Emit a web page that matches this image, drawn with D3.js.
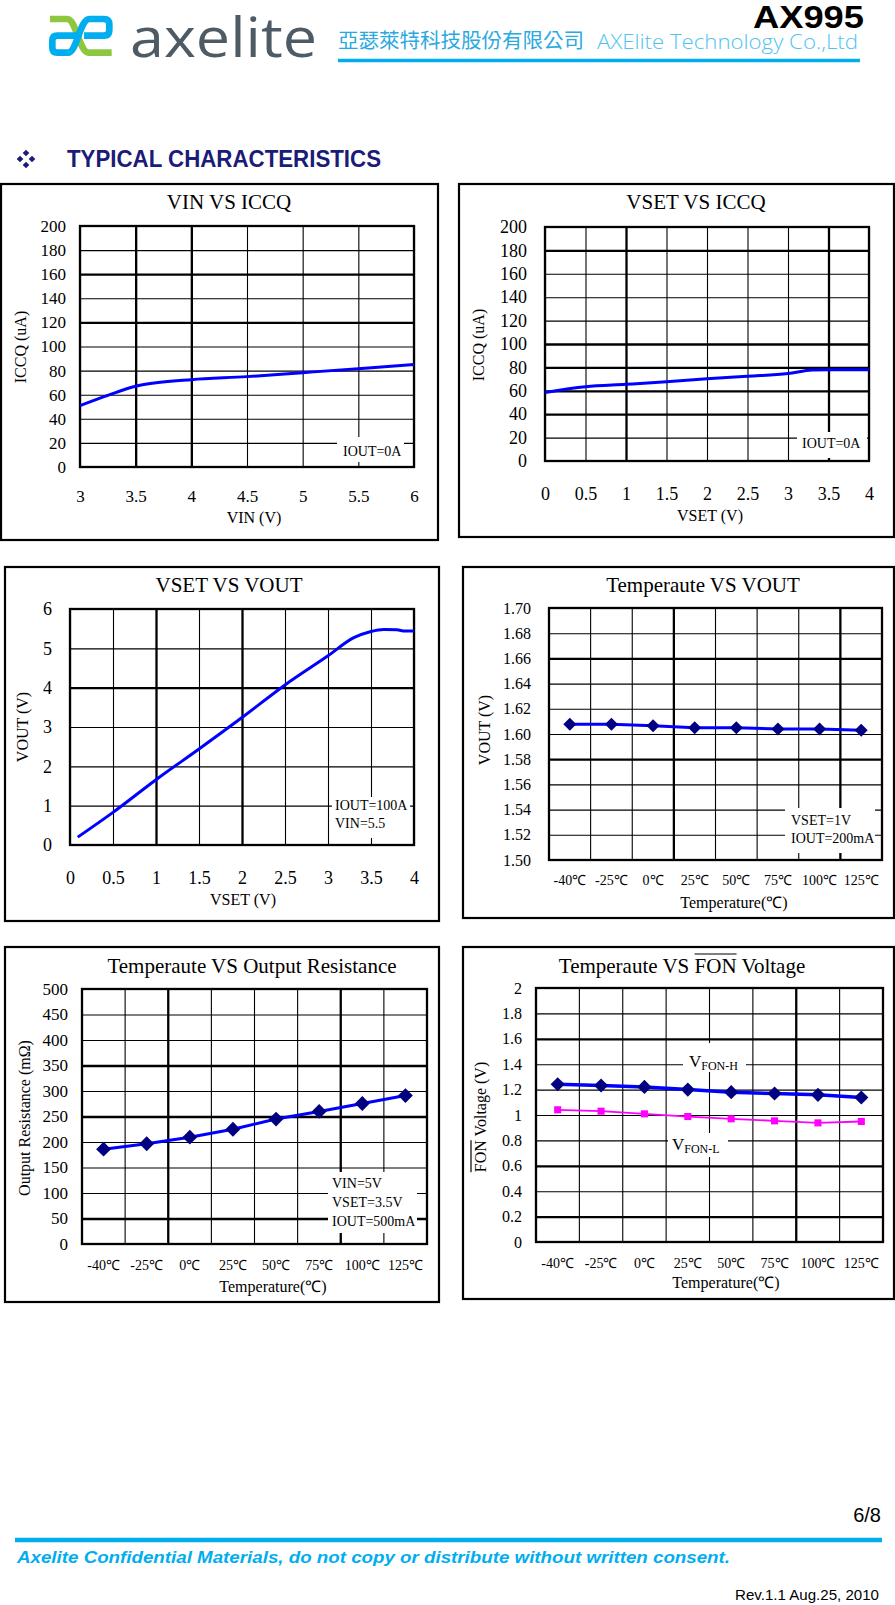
<!DOCTYPE html>
<html>
<head>
<meta charset="utf-8">
<script src="https://cdn.jsdelivr.net/npm/d3@7"></script>
<style>
  html, body { margin: 0; padding: 0; background: #fff; }
  svg { display: block; }
</style>
</head>
<body>
<script>
// ---------------- DATA ----------------
// Chart 1: VIN vs ICCQ
const vinX      = [3, 3.25, 3.5, 3.65, 4, 4.5, 5, 5.5, 6];
const vinIccq   = [51, 59.5, 67, 69.5, 72.5, 75, 78.3, 81.6, 85];
const vinTicks  = [3, 3.5, 4, 4.5, 5, 5.5, 6];
const iccqTicks = [0, 20, 40, 60, 80, 100, 120, 140, 160, 180, 200];

// Chart 2: VSET vs ICCQ
const vsetIccqX = [0, 0.5, 1, 1.5, 2, 2.5, 3, 3.3, 3.5, 4];
const vsetIccq  = [58.5, 63.4, 65.5, 67.7, 70.2, 72.4, 74.7, 77.8, 78, 78];
const vsetTicks = [0, 0.5, 1, 1.5, 2, 2.5, 3, 3.5, 4];

// Chart 3: VSET vs VOUT
const vsetVoutX = [0.09, 0.5, 1, 1.5, 2, 2.5, 3, 3.3, 3.5, 3.65, 3.8, 3.9, 4];
const vsetVout  = [0.2, 0.83, 1.66, 2.44, 3.24, 4.07, 4.81, 5.27, 5.43, 5.48, 5.47, 5.44, 5.44];
const voutTicks = [0, 1, 2, 3, 4, 5, 6];

// Temperature categories
const tempCats = ["-40℃", "-25℃", "0℃", "25℃", "50℃", "75℃", "100℃", "125℃"];

// Chart 4: Temperature vs VOUT
const tempVout      = [1.6077, 1.6077, 1.6066, 1.605, 1.605, 1.604, 1.604, 1.603];
const tempVoutTicks = [1.50, 1.52, 1.54, 1.56, 1.58, 1.60, 1.62, 1.64, 1.66, 1.68, 1.70];

// Chart 5: Temperature vs Output Resistance
const tempRout  = [186, 196.5, 209.5, 225, 245, 260, 275.5, 291];
const routTicks = [0, 50, 100, 150, 200, 250, 300, 350, 400, 450, 500];

// Chart 6: Temperature vs FON voltage
const fonHigh  = [1.242, 1.232, 1.221, 1.200, 1.180, 1.169, 1.159, 1.138];
const fonLow   = [1.041, 1.030, 1.009, 0.988, 0.970, 0.954, 0.938, 0.949];
const fonTicks = [0, 0.2, 0.4, 0.6, 0.8, 1, 1.2, 1.4, 1.6, 1.8, 2];

// ---------------- DRAW ----------------
const SERIF = "'Liberation Serif','Times New Roman',serif";
const SANS = "'Liberation Sans',Arial,sans-serif";
const svg = d3.select("body").append("svg").attr("width", 895).attr("height", 1605);

// Header
const logo = svg.append("g").attr("transform", "translate(40,10) scale(0.3333)")
  .attr("fill", "none").attr("stroke-linecap", "butt").attr("stroke-width", 20);
logo.append("path").attr("stroke", "#8dc63f")
  .attr("d", "M30,27 L82,27 C108,27 118,128 146,128 L215,128");
logo.append("path").attr("stroke", "#00aeef")
  .attr("d", "M112,77 L52,77 Q37,77 37,92 L37,113 Q37,128 52,128 L84,128 C110,128 120,27 148,27 L192,27 Q208,27 208,43 L208,61 Q208,77 192,77 L132,77");
svg.append("text").attr("x", 130).attr("y", 57).attr("font-family", "'Open Sans',sans-serif")
  .attr("font-size", 54).attr("fill", "#4e5a64").attr("textLength", 187).attr("lengthAdjust", "spacingAndGlyphs")
  .text("axelite");
svg.append("text").attr("x", 338).attr("y", 48).attr("font-family", "'Noto Sans CJK TC',sans-serif")
  .attr("font-size", 20).attr("fill", "#2aa9e0").attr("textLength", 246).attr("lengthAdjust", "spacingAndGlyphs")
  .text("亞瑟萊特科技股份有限公司");
svg.append("text").attr("x", 597).attr("y", 49).attr("font-family", "'Open Sans',sans-serif").attr("font-weight", 300)
  .attr("font-size", 20).attr("fill", "#4fc3f0").attr("textLength", 261).attr("lengthAdjust", "spacingAndGlyphs")
  .text("AXElite Technology Co.,Ltd");
svg.append("line").attr("x1", 338).attr("x2", 860).attr("y1", 60.5).attr("y2", 60.5)
  .attr("stroke", "#00aeef").attr("stroke-width", 3.5);
svg.append("text").attr("x", 864).attr("y", 28).attr("text-anchor", "end").attr("font-family", SANS)
  .attr("font-weight", "bold").attr("font-size", 32).attr("textLength", 111).attr("lengthAdjust", "spacingAndGlyphs")
  .text("AX995");

// Section title
const bullet = svg.append("g").attr("fill", "#1b1b78");
[[0, -6], [-6, 0], [6, 0], [0, 6]].forEach(([dx, dy]) => {
  bullet.append("path").attr("d", d3.symbol(d3.symbolSquare, 22)())
    .attr("transform", `translate(${26 + dx},${159 + dy}) rotate(45)`);
});
svg.append("text").attr("x", 67).attr("y", 167).attr("font-family", SANS).attr("font-weight", "bold")
  .attr("font-size", 24).attr("fill", "#1b1b78").attr("textLength", 314).attr("lengthAdjust", "spacingAndGlyphs")
  .text("TYPICAL CHARACTERISTICS");

// Footer
svg.append("text").attr("x", 881).attr("y", 1522).attr("text-anchor", "end").attr("font-family", SANS)
  .attr("font-size", 20).text("6/8");
svg.append("line").attr("x1", 15).attr("x2", 882).attr("y1", 1540).attr("y2", 1540)
  .attr("stroke", "#00aeef").attr("stroke-width", 4.5);
svg.append("text").attr("x", 17).attr("y", 1563).attr("font-family", SANS).attr("font-weight", "bold")
  .attr("font-style", "italic").attr("font-size", 16).attr("fill", "#00aeef")
  .attr("textLength", 713).attr("lengthAdjust", "spacingAndGlyphs")
  .text("Axelite Confidential Materials, do not copy or distribute without written consent.");
svg.append("text").attr("x", 879).attr("y", 1600).attr("text-anchor", "end").attr("font-family", SANS)
  .attr("font-size", 15).attr("textLength", 144).attr("lengthAdjust", "spacingAndGlyphs")
  .text("Rev.1.1 Aug.25, 2010");

const near = (arr, v) => (arr || []).some(a => Math.abs(a - v) < 1e-9);

// rich text with overline support; segments: [{t, over}]
function richText(parent, segs, x, y, fs, anchor, overOffset) {
  const txt = parent.append("text").attr("x", x).attr("y", y).attr("font-family", SERIF)
    .attr("font-size", fs).attr("text-anchor", anchor).attr("fill", "#000");
  segs.forEach(s => txt.append("tspan").text(s.t));
  let idx = 0;
  segs.forEach(s => {
    if (s.over) {
      const n = txt.node();
      const p0 = n.getStartPositionOfChar(idx);
      const p1 = n.getEndPositionOfChar(idx + s.t.length - 1);
      parent.append("line").attr("x1", p0.x).attr("x2", p1.x)
        .attr("y1", y - overOffset).attr("y2", y - overOffset)
        .attr("stroke", "#000").attr("stroke-width", 1.2);
    }
    idx += s.t.length;
  });
  return txt;
}

function drawChart(c) {
  const g = svg.append("g");
  const [l, t, r, b] = c.plot;
  const y = d3.scaleLinear().domain(c.yDomain).range([b, t]);
  let x, xc;
  if (c.cats) {
    x = d3.scaleBand().domain(c.cats).range([l, r]).padding(0);
    xc = (d, i) => x(c.cats[i]) + x.bandwidth() / 2;
  } else {
    x = d3.scaleLinear().domain(c.xDomain).range([l, r]);
    xc = (d, i) => x(c.xs[i]);
  }

  // outer box
  g.append("rect").attr("x", c.box[0]).attr("y", c.box[1])
    .attr("width", c.box[2] - c.box[0]).attr("height", c.box[3] - c.box[1])
    .attr("fill", "none").attr("stroke", "#000").attr("stroke-width", 2.2);

  // y axis + horizontal grid
  const yFmt = c.yFmt || (d => String(d));
  const ya = g.append("g").attr("transform", `translate(${l},0)`)
    .call(d3.axisLeft(y).tickValues(c.yTicks).tickFormat(yFmt).tickSize(-(r - l)).tickPadding(l - c.yLabelRight));
  ya.select(".domain").remove();
  ya.selectAll(".tick line").attr("stroke", "#000").attr("stroke-width", d => near(c.thickY, d) ? 2.3 : 1.1);
  ya.selectAll(".tick text").attr("font-family", SERIF).attr("font-size", c.yFs).attr("fill", "#000");

  // x axis + vertical grid
  const xPad = c.xLabelBase - b - 0.71 * c.xFs;
  if (c.cats) {
    const xa = g.append("g").attr("transform", `translate(0,${b})`)
      .call(d3.axisBottom(x).tickSize(0).tickPadding(xPad));
    xa.select(".domain").remove();
    xa.selectAll(".tick text").attr("font-family", SERIF).attr("font-size", c.xFs).attr("fill", "#000");
    g.append("g").selectAll("line").data(c.cats.slice(1)).join("line")
      .attr("x1", d => x(d)).attr("x2", d => x(d)).attr("y1", t).attr("y2", b)
      .attr("stroke", "#000").attr("stroke-width", (d, i) => near(c.thickB, i + 1) ? 2.3 : 1.1);
  } else {
    const xa = g.append("g").attr("transform", `translate(0,${b})`)
      .call(d3.axisBottom(x).tickValues(c.xTicks).tickFormat(d => String(d)).tickSize(-(b - t)).tickPadding(xPad));
    xa.select(".domain").remove();
    xa.selectAll(".tick line").attr("stroke", "#000").attr("stroke-width", d => near(c.thickX, d) ? 2.3 : 1.1);
    xa.selectAll(".tick text").attr("font-family", SERIF).attr("font-size", c.xFs).attr("fill", "#000");
  }

  // annotation backgrounds
  (c.notes || []).forEach(n => {
    g.append("rect").attr("x", n.rect[0]).attr("y", n.rect[1])
      .attr("width", n.rect[2] - n.rect[0]).attr("height", n.rect[3] - n.rect[1]).attr("fill", "#fff");
  });

  // plot border
  g.append("rect").attr("x", l).attr("y", t).attr("width", r - l).attr("height", b - t)
    .attr("fill", "none").attr("stroke", "#000").attr("stroke-width", 2.3);

  // annotation texts
  (c.notes || []).forEach(n => {
    if (n.lines) {
      n.lines.forEach((s, i) => g.append("text").attr("x", n.tx).attr("y", n.ty[i])
        .attr("font-family", SERIF).attr("font-size", n.fs || 14).attr("fill", "#000").text(s));
    } else {
      const tx = g.append("text").attr("x", n.tx).attr("y", n.ty).attr("font-family", SERIF).attr("fill", "#000");
      tx.append("tspan").attr("font-size", 17).text(n.main);
      tx.append("tspan").attr("font-size", 12).attr("dy", 3).text(n.sub);
    }
  });

  // series
  c.series.forEach(s => {
    const line = d3.line().x(xc).y(d => y(d));
    if (s.smooth) line.curve(d3.curveMonotoneX);
    g.append("path").datum(s.ys).attr("d", line).attr("fill", "none")
      .attr("stroke", s.color).attr("stroke-width", s.width).attr("stroke-linejoin", "round");
    if (s.marker) {
      const sym = d3.symbol(d3.symbolSquare, s.msize);
      g.append("g").selectAll("path").data(s.ys).join("path")
        .attr("d", sym)
        .attr("transform", (d, i) => `translate(${xc(d, i)},${y(d)})` + (s.marker === "diamond" ? " rotate(45)" : ""))
        .attr("fill", s.mcolor);
    }
  });

  // titles
  const titleSegs = typeof c.title === "string" ? [{ t: c.title }] : c.title;
  richText(g, titleSegs, c.titleX, c.titleY, c.titleFs || 21, "middle", 19);
  g.append("text").attr("x", c.xTitleX).attr("y", c.xTitleY).attr("text-anchor", "middle")
    .attr("font-family", SERIF).attr("font-size", 16).attr("fill", "#000").text(c.xTitle);
  const yg = g.append("g").attr("transform", `translate(${c.yTitleX},${c.yTitleY}) rotate(-90)`);
  const ySegs = typeof c.yTitle === "string" ? [{ t: c.yTitle }] : c.yTitle;
  richText(yg, ySegs, 0, 0, 16, "middle", 15);
}

const BLUE = "#0000ff", NAVY = "#000080", MAGENTA = "#ff00ff";

drawChart({
  box: [1, 184, 438, 540], plot: [80, 226, 414, 467],
  xDomain: [3, 6], xTicks: vinTicks, xs: vinX, yDomain: [0, 200], yTicks: iccqTicks,
  yFs: 17, xFs: 17, yLabelRight: 66, xLabelBase: 502,
  thickY: [160, 120], thickX: [3.5, 4],
  title: "VIN VS ICCQ", titleX: 229, titleY: 209,
  xTitle: "VIN (V)", xTitleX: 254, xTitleY: 523,
  yTitle: "ICCQ (uA)", yTitleX: 26, yTitleY: 347,
  series: [{ ys: vinIccq, color: BLUE, width: 3, smooth: true }],
  notes: [{ rect: [337, 437, 404, 462], lines: ["IOUT=0A"], tx: 343, ty: [456] }]
});

drawChart({
  box: [459, 184, 894, 537], plot: [545, 227, 869, 461],
  xDomain: [0, 4], xTicks: vsetTicks, xs: vsetIccqX, yDomain: [0, 200], yTicks: iccqTicks,
  yFs: 18, xFs: 18, yLabelRight: 527, xLabelBase: 500,
  thickY: [180, 100, 80, 60, 40], thickX: [1, 3.5],
  title: "VSET VS ICCQ", titleX: 696, titleY: 209,
  xTitle: "VSET (V)", xTitleX: 710, xTitleY: 521,
  yTitle: "ICCQ (uA)", yTitleX: 484, yTitleY: 345,
  series: [{ ys: vsetIccq, color: BLUE, width: 3, smooth: true }],
  notes: [{ rect: [797, 432, 867, 458], lines: ["IOUT=0A"], tx: 802, ty: [448] }]
});

drawChart({
  box: [5, 567, 439, 921], plot: [70, 609, 414, 845],
  xDomain: [0, 4], xTicks: vsetTicks, xs: vsetVoutX, yDomain: [0, 6], yTicks: voutTicks,
  yFs: 18, xFs: 18, yLabelRight: 52, xLabelBase: 884,
  thickY: [4], thickX: [1, 2],
  title: "VSET VS VOUT", titleX: 229, titleY: 592,
  xTitle: "VSET (V)", xTitleX: 243, xTitleY: 905,
  yTitle: "VOUT (V)", yTitleX: 28, yTitleY: 727,
  series: [{ ys: vsetVout, color: BLUE, width: 3, smooth: true }],
  notes: [{ rect: [332, 797, 410, 838], lines: ["IOUT=100A", "VIN=5.5"], tx: 335, ty: [810, 828] }]
});

drawChart({
  box: [463, 567, 894, 918], plot: [549, 608, 882, 860],
  cats: tempCats, yDomain: [1.5, 1.7], yTicks: tempVoutTicks, yFmt: d3.format(".2f"),
  yFs: 16, xFs: 14, yLabelRight: 531, xLabelBase: 885,
  thickY: [1.66, 1.58], thickB: [3, 7],
  title: "Temperaute VS VOUT", titleX: 703, titleY: 592,
  xTitle: "Temperature(℃)", xTitleX: 734, xTitleY: 908,
  yTitle: "VOUT (V)", yTitleX: 490, yTitleY: 730,
  series: [{ ys: tempVout, color: BLUE, width: 3, marker: "diamond", msize: 85, mcolor: NAVY }],
  notes: [{ rect: [785, 808, 875, 853], lines: ["VSET=1V", "IOUT=200mA"], tx: 791, ty: [825, 843] }]
});

drawChart({
  box: [5, 947, 439, 1302], plot: [82, 989, 427, 1244],
  cats: tempCats, yDomain: [0, 500], yTicks: routTicks,
  yFs: 17, xFs: 14, yLabelRight: 68, xLabelBase: 1270,
  thickY: [350, 250, 50], thickB: [2, 6],
  title: "Temperaute VS Output Resistance", titleX: 252, titleY: 973,
  xTitle: "Temperature(℃)", xTitleX: 273, xTitleY: 1292,
  yTitle: "Output Resistance (mΩ)", yTitleX: 30, yTitleY: 1118,
  series: [{ ys: tempRout, color: BLUE, width: 3, marker: "diamond", msize: 110, mcolor: NAVY }],
  notes: [{ rect: [328, 1172, 417, 1233], lines: ["VIN=5V", "VSET=3.5V", "IOUT=500mA"], tx: 332, ty: [1188, 1207, 1226] }]
});

drawChart({
  box: [463, 947, 894, 1299], plot: [536, 988, 883, 1242],
  cats: tempCats, yDomain: [0, 2], yTicks: fonTicks,
  yFs: 16, xFs: 14, yLabelRight: 522, xLabelBase: 1268,
  thickY: [1.6, 0.6, 0.2], thickB: [6],
  title: [{ t: "Temperaute VS " }, { t: "FON", over: true }, { t: " Voltage" }], titleX: 682, titleY: 973,
  xTitle: "Temperature(℃)", xTitleX: 726, xTitleY: 1288,
  yTitle: [{ t: "FON", over: true }, { t: " Voltage (V)" }], yTitleX: 486, yTitleY: 1117,
  series: [
    { ys: fonHigh, color: BLUE, width: 3.5, marker: "diamond", msize: 100, mcolor: NAVY },
    { ys: fonLow, color: MAGENTA, width: 1.8, marker: "square", msize: 50, mcolor: MAGENTA }
  ],
  notes: [
    { rect: [683, 1043, 746, 1072], main: "V", sub: "FON-H", tx: 689, ty: 1067 },
    { rect: [668, 1133, 728, 1157], main: "V", sub: "FON-L", tx: 672, ty: 1150 }
  ]
});
</script>
</body>
</html>
